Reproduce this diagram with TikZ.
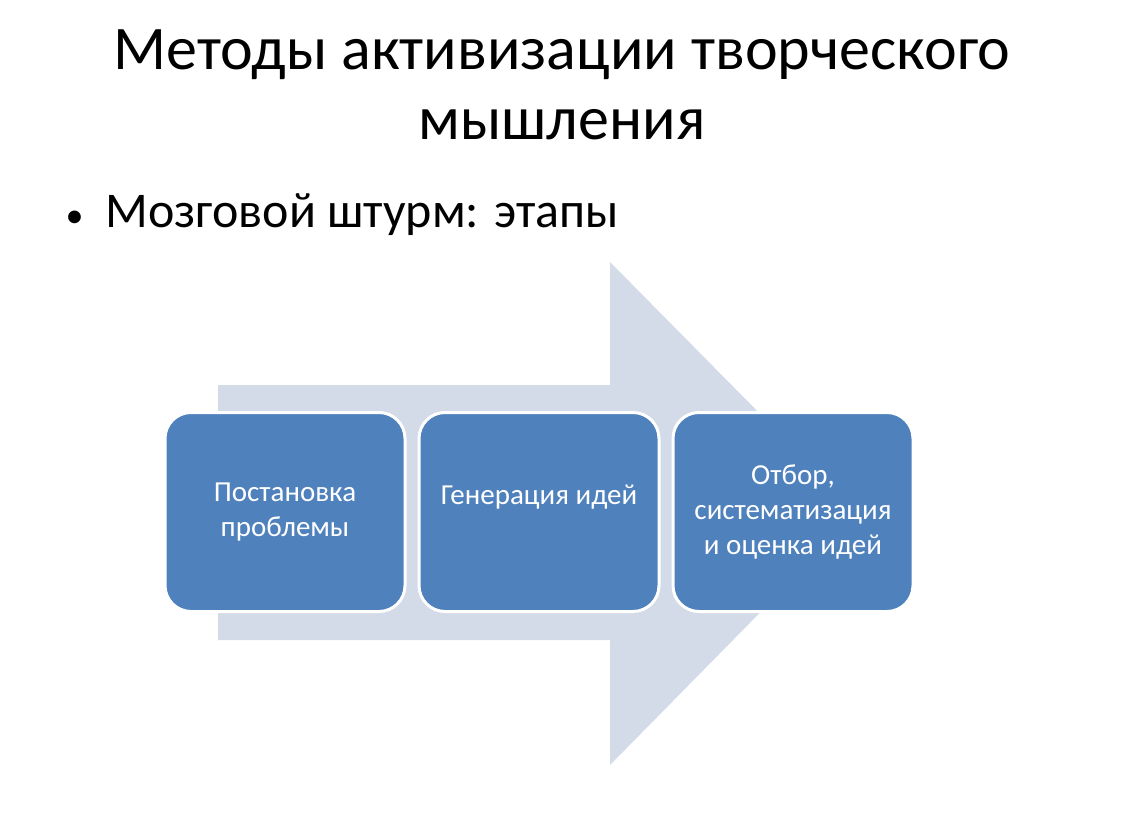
\documentclass[tikz,border=0pt]{standalone}
\usepackage{fontspec}
\setmainfont{Carlito}
\definecolor{arrowc}{HTML}{D3DAE8}
\definecolor{boxc}{HTML}{4F81BD}
\tikzset{stage/.style={draw=white,line width=3pt,fill=boxc,rounded corners=26pt,minimum width=240pt,minimum height=199pt,text=white,align=center,font=\fontsize{29}{35}\selectfont}}
\begin{document}
\begin{tikzpicture}[x=1pt,y=-1pt]
\useasboundingbox[fill=white] (0,0) rectangle (1125,819);
\node (t1) at (562,55) {\fontsize{62}{70}\selectfont Методы активизации творческого};
\node (t2) at (562,125) {\fontsize{62}{70}\selectfont мышления};
\node[anchor=west] (b) at (62,215) {\fontsize{50}{58}\selectfont {\fontsize{36}{40}\selectfont •}\hspace{22pt}Мозговой штурм: этапы};
\fill[arrowc] (218,385) -- (610,385) -- (610,262) -- (858,513) -- (610,765) -- (610,640) -- (218,640) -- cycle;
\node[stage] (s1) at (285,512) {Постановка\\проблемы};
\node[stage] (s2) at (539,512) {};
\node[text=white,font=\fontsize{29}{35}\selectfont] (s2t) at (539,497) {Генерация идей};
\node[stage] (s3) at (793,512) {Отбор,\\систематизация\\и оценка идей};
\end{tikzpicture}
\end{document}
